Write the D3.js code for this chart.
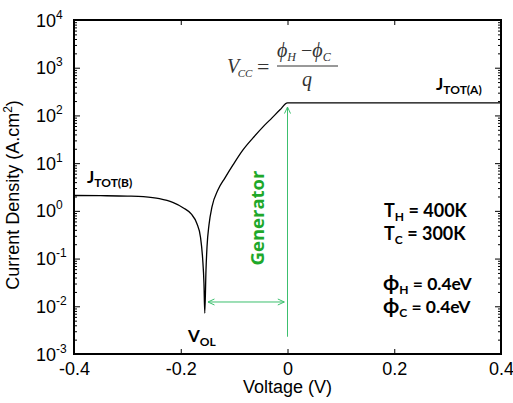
<!DOCTYPE html>
<html>
<head>
<meta charset="utf-8">
<script src="https://cdn.jsdelivr.net/npm/d3@7"></script>
<style>
  body { margin: 0; background: #fff; }
  svg { display: block; }
</style>
</head>
<body>
<svg id="chart"></svg>
<script>
// I-V curve (voltage in V, current density in A.cm^-2)
const voltage = [-0.400, -0.350, -0.300, -0.270, -0.240, -0.215, -0.195, -0.180, -0.170, -0.163, -0.159, -0.1565, -0.155,
                 -0.1527, -0.1508, -0.1471, -0.1415, -0.1302, -0.1171, -0.1021, -0.0834, -0.0646, -0.0459, -0.0290, -0.0141, 0.000, 0.400];
const current = [2.10, 2.08, 2.04, 1.98, 1.80, 1.50, 1.15, 0.85, 0.55, 0.28, 0.10, 0.030, 0.0072,
                 0.058, 0.176, 0.51, 1.21, 2.76, 4.92, 9.2, 19.0, 33.9, 57.7, 89, 131, 183, 183];

const xTicks = [-0.4, -0.2, 0, 0.2, 0.4];
const xTickLabels = ["-0.4", "-0.2", "0", "0.2", "0.4"];
const yDecades = [-3, -2, -1, 0, 1, 2, 3, 4];

// generator arrows (data coords)
const genV = 0;
const genJ = [0.0023, 150];
const volV = [-0.149, -0.006];
const volJ = 0.0123;

const width = 513, height = 403;
const margin = {left: 74, right: 12, top: 20, bottom: 49};

const svg = d3.select("#chart")
    .attr("width", width)
    .attr("height", height);

const x = d3.scaleLinear().domain([-0.4, 0.4]).range([margin.left, width - margin.right]);
const y = d3.scaleLog().domain([1e-3, 1e4]).range([height - margin.bottom, margin.top]);

const minors = [];
yDecades.slice(0, -1).forEach(e => {
  for (let k = 2; k <= 9; k++) minors.push(k * Math.pow(10, e));
});

const axisFont = "'Liberation Sans', Arial, sans-serif";

// bottom axis
const gx = svg.append("g")
    .attr("transform", `translate(0,${y.range()[0]})`)
    .call(d3.axisBottom(x).tickValues(xTicks).tickSizeInner(-5).tickSizeOuter(0).tickPadding(8)
      .tickFormat((d, i) => xTickLabels[i]));
gx.selectAll("text").attr("font-size", 18).attr("font-family", axisFont).attr("fill", "#000");

// top axis (ticks only)
svg.append("g")
    .attr("transform", `translate(0,${y.range()[1]})`)
    .call(d3.axisTop(x).tickValues(xTicks).tickSizeInner(-5).tickSizeOuter(0).tickFormat(""));

// left axis, decades + minor ticks
svg.append("g")
    .attr("transform", `translate(${x.range()[0]},0)`)
    .call(d3.axisLeft(y).tickValues(yDecades.map(e => Math.pow(10, e))).tickSizeInner(-6).tickSizeOuter(0).tickFormat(""));
svg.append("g")
    .attr("transform", `translate(${x.range()[0]},0)`)
    .call(d3.axisLeft(y).tickValues(minors).tickSizeInner(-3).tickSizeOuter(0).tickFormat(""));

// right axis
svg.append("g")
    .attr("transform", `translate(${x.range()[1]},0)`)
    .call(d3.axisRight(y).tickValues(yDecades.map(e => Math.pow(10, e))).tickSizeInner(-6).tickSizeOuter(0).tickFormat(""));
svg.append("g")
    .attr("transform", `translate(${x.range()[1]},0)`)
    .call(d3.axisRight(y).tickValues(minors).tickSizeInner(-3).tickSizeOuter(0).tickFormat(""));

svg.selectAll(".domain").remove();
svg.selectAll(".tick line").attr("stroke", "#000").attr("stroke-width", 1);

// y tick labels 10^n
const yLab = svg.append("g").attr("font-family", axisFont).attr("fill", "#000");
yDecades.forEach(e => {
  const t = yLab.append("text")
      .attr("x", 36)
      .attr("y", y(Math.pow(10, e)) + 6.5)
      .attr("font-size", 18)
      .text("10");
  t.append("tspan")
      .attr("dy", -8)
      .attr("font-size", 12)
      .text(e);
});

// frame
svg.append("rect")
    .attr("x", x.range()[0])
    .attr("y", y.range()[1])
    .attr("width", x.range()[1] - x.range()[0])
    .attr("height", y.range()[0] - y.range()[1])
    .attr("fill", "none")
    .attr("stroke", "#000")
    .attr("stroke-width", 2);

// axis titles
svg.append("text")
    .attr("x", x(0))
    .attr("y", 393)
    .attr("text-anchor", "middle")
    .attr("font-family", axisFont)
    .attr("font-size", 18)
    .text("Voltage (V)");

const yt = svg.append("text")
    .attr("transform", `translate(19,${195}) rotate(-90)`)
    .attr("text-anchor", "middle")
    .attr("font-family", axisFont)
    .attr("font-size", 18)
    .text("Current Density (A.cm");
yt.append("tspan").attr("dy", -7).attr("font-size", 12).text("2");
yt.append("tspan").attr("dy", 7).text(")");

// the curve
const pts = voltage.map((v, i) => [v, current[i]]);
svg.append("path")
    .datum(pts)
    .attr("fill", "none")
    .attr("stroke", "#000")
    .attr("stroke-width", 1.3)
    .attr("d", d3.line().x(d => x(d[0])).y(d => y(d[1])).curve(d3.curveMonotoneX));

// green arrows
const green = "#3cbf6e";
svg.append("defs").append("marker")
    .attr("id", "arr")
    .attr("viewBox", "0 0 8 8")
    .attr("refX", 7.5)
    .attr("refY", 4)
    .attr("markerWidth", 8)
    .attr("markerHeight", 8)
    .attr("markerUnits", "userSpaceOnUse")
    .attr("orient", "auto-start-reverse")
  .append("path")
    .attr("d", "M1,1L7.5,4L1,7")
    .attr("fill", "none")
    .attr("stroke", green)
    .attr("stroke-width", 1);

svg.append("line")
    .attr("x1", x(genV)).attr("x2", x(genV))
    .attr("y1", y(genJ[0])).attr("y2", y(genJ[1]))
    .attr("stroke", green).attr("stroke-width", 1)
    .attr("marker-end", "url(#arr)");

svg.append("line")
    .attr("x1", x(volV[0])).attr("x2", x(volV[1]))
    .attr("y1", y(volJ)).attr("y2", y(volJ))
    .attr("stroke", green).attr("stroke-width", 1)
    .attr("marker-start", "url(#arr)")
    .attr("marker-end", "url(#arr)");

svg.append("text")
    .attr("transform", "translate(264,218) rotate(-90)")
    .attr("text-anchor", "middle")
    .attr("font-family", "'Open Sans', sans-serif")
    .attr("font-weight", 700)
    .attr("font-size", 18.5)
    .attr("fill", "#1ea82a")
    .text("Generator");

// bold labels with subscripts
const labFont = "Lato, 'Open Sans', sans-serif";
function subLabel(px, py, main, sub, rest, size, subSize, mainSize) {
  const t = svg.append("text")
      .attr("x", px).attr("y", py)
      .attr("font-family", labFont)
      .attr("font-weight", 700)
      .attr("font-size", size);
  t.append("tspan").attr("font-size", mainSize || size).text(main);
  t.append("tspan").attr("dy", 4).attr("font-size", subSize).text(sub);
  if (rest) t.append("tspan").attr("dy", -4).text(rest);
  return t;
}
subLabel(87, 183, "J", "TOT(B)", null, 17, 12);
subLabel(436, 90, "J", "TOT(A)", null, 17, 12);
subLabel(188, 342, "V", "OL", null, 17, 12);
subLabel(384, 217, "T", "H", " = 400K", 18, 12);
subLabel(384, 240, "T", "C", " = 300K", 18, 12);
subLabel(383, 290, "ϕ", "H", " = 0.4eV", 17.5, 12, 21);
subLabel(383, 313, "ϕ", "C", " = 0.4eV", 17.5, 12, 21);

// formula
const serif = "'Liberation Serif', 'Times New Roman', serif";
const fcol = "#333";
const f1 = svg.append("text")
    .attr("x", 227).attr("y", 73)
    .attr("font-family", serif).attr("font-style", "italic")
    .attr("font-size", 20).attr("fill", fcol)
    .text("V");
f1.append("tspan").attr("dy", 4).attr("dx", -1.5).attr("font-size", 11).text("CC");
svg.append("text")
    .attr("x", 257).attr("y", 74)
    .attr("font-family", serif).attr("font-size", 22).attr("fill", fcol)
    .text("=");
const f2 = svg.append("text")
    .attr("x", 277).attr("y", 57)
    .attr("font-family", serif).attr("font-style", "italic")
    .attr("font-size", 20).attr("fill", fcol)
    .text("ϕ");
f2.append("tspan").attr("dy", 4).attr("font-size", 12).text("H");
f2.append("tspan").attr("dy", -4).attr("font-style", "normal").text(" −");
f2.append("tspan").text("ϕ");
f2.append("tspan").attr("dy", 4).attr("font-size", 12).text("C");
svg.append("line")
    .attr("x1", 277).attr("x2", 338)
    .attr("y1", 66).attr("y2", 66)
    .attr("stroke", fcol).attr("stroke-width", 1);
svg.append("text")
    .attr("x", 302).attr("y", 86)
    .attr("font-family", serif).attr("font-style", "italic")
    .attr("font-size", 20).attr("fill", fcol)
    .text("q");
</script>
</body>
</html>
